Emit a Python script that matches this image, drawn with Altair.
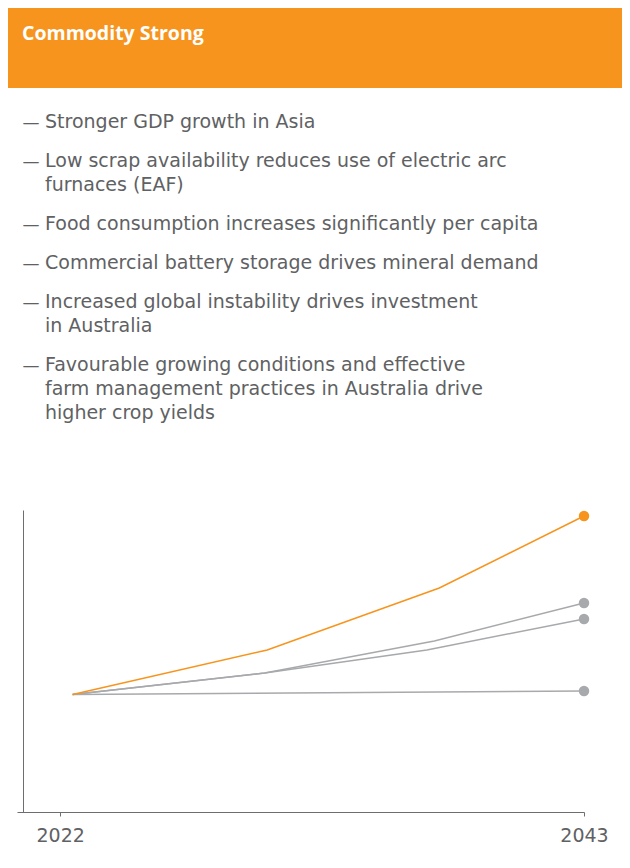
import altair as alt
import pandas as pd

# ---------------- data ----------------
title_text = "Commodity Strong"
bullets = [
    ["Stronger GDP growth in Asia"],
    ["Low scrap availability reduces use of electric arc", "furnaces (EAF)"],
    ["Food consumption increases significantly per capita"],
    ["Commercial battery storage drives mineral demand"],
    ["Increased global instability drives investment", "in Australia"],
    ["Favourable growing conditions and effective",
     "farm management practices in Australia drive",
     "higher crop yields"],
]
tick_years = [2022, 2043]

series_names = ["Other scenario A", "Other scenario B", "Other scenario C", "Commodity Strong"]
series_colors = ["#A7A9AC", "#A7A9AC", "#A7A9AC", "#F7941D"]

years_a = [2022.5, 2030.2, 2037.0, 2043]
values_a = [100, 118.3, 145.5, 177.9]
years_b = [2022.5, 2030.2, 2036.7, 2043]
values_b = [100, 118.3, 137.9, 164.3]
years_c = [2022.5, 2043]
values_c = [100, 103.0]
years_strong = [2022.5, 2030.3, 2037.2, 2043]
values_strong = [100, 137.9, 190.6, 251.9]

x_domain = [2020.27, 2043]
y_domain = [0, 257]

# ---------------- build table ----------------
rows = []
for name, ys, vs in [
    (series_names[0], years_a, values_a),
    (series_names[1], years_b, values_b),
    (series_names[2], years_c, values_c),
    (series_names[3], years_strong, values_strong),
]:
    for i, (yr, v) in enumerate(zip(ys, vs)):
        rows.append({"series": name, "year": yr, "value": v, "order": i,
                     "last": i == len(ys) - 1})
df = pd.DataFrame(rows)

# ---------------- layout ----------------
TOTAL_W = 614
PAD_L, PAD_T, PAD_B = 9, 502, 40
W, H = 567, 302
PAD_R = TOTAL_W - PAD_L - W
TEXT_COLOR = "#606163"
AXIS_COLOR = "#6D6E71"
ORANGE = "#F7941D"
FONT = "DejaVu Sans"
TITLE_FONT = "Open Sans"

color_scale = alt.Scale(domain=series_names, range=series_colors)
x_enc = alt.X("year:Q", scale=alt.Scale(domain=x_domain, nice=False, zero=False),
              axis=alt.Axis(values=tick_years, format="d", title=None, grid=False,
                            domainColor=AXIS_COLOR, tickColor=AXIS_COLOR, tickSize=4,
                            labelFontSize=19, labelColor=TEXT_COLOR, labelFont=FONT,
                            labelPadding=10, labelFlush=False))
y_enc = alt.Y("value:Q", scale=alt.Scale(domain=y_domain, nice=False, zero=False),
              axis=alt.Axis(title=None, grid=False, ticks=False, labels=False,
                            domainColor=AXIS_COLOR, offset=-6))

base = alt.Chart(df)
lines = base.mark_line(strokeWidth=1.5).encode(
    x=x_enc, y=y_enc,
    color=alt.Color("series:N", scale=color_scale, legend=None),
    detail="series:N",
    order="order:Q",
)
points = base.transform_filter("datum.last").mark_circle(size=110, opacity=1).encode(
    x="year:Q", y="value:Q",
    color=alt.Color("series:N", scale=color_scale, legend=None),
)

one = pd.DataFrame({"k": [0]})
header = alt.Chart(one).mark_rect(color=ORANGE).encode(
    x=alt.value(-PAD_L), x2=alt.value(TOTAL_W - PAD_L),
    y=alt.value(-PAD_T), y2=alt.value(-PAD_T + 80),
)
title = alt.Chart(one).mark_text(
    text=title_text, align="left", baseline="alphabetic", fontSize=19.5,
    fontWeight="bold", font=TITLE_FONT, color="white",
).encode(x=alt.value(5), y=alt.value(-470))

layers = [header, title]
baseline0 = -382
line_h, gap = 24, 15
k = 0
for b, blines in enumerate(bullets):
    yb = baseline0 + line_h * k + gap * b
    layers.append(alt.Chart(one).mark_text(
        text="\u2014", align="left", baseline="alphabetic", fontSize=17,
        font=FONT, color=TEXT_COLOR,
    ).encode(x=alt.value(5.5), y=alt.value(yb)))
    layers.append(alt.Chart(one).mark_text(
        text=blines, align="left", baseline="alphabetic", fontSize=19,
        font=FONT, color=TEXT_COLOR, lineHeight=line_h,
    ).encode(x=alt.value(28), y=alt.value(yb)))
    k += len(blines)

chart = alt.layer(*layers, lines, points).properties(
    width=W, height=H,
    autosize=alt.AutoSizeParams(type="none"),
    padding={"left": PAD_L, "top": PAD_T, "right": PAD_R, "bottom": PAD_B},
    background="white",
).configure_view(stroke=None)

chart.save("out.html", embed_options={"renderer": "svg", "actions": False})
